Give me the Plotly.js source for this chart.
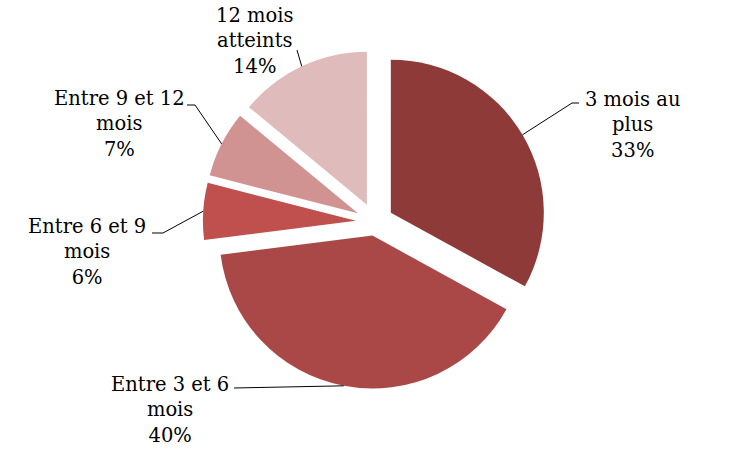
<!DOCTYPE html>
<html>
<head>
<meta charset="utf-8">
<script src="https://cdn.plot.ly/plotly-3.0.1.min.js"></script>
<style>html,body{margin:0;padding:0;background:#fff;}#chart{width:750px;height:450px;}</style>
</head>
<body>
<div id="chart"></div>
<script>
// ---- data ----
const categories = ['3 mois au plus', 'Entre 3 et 6 mois', 'Entre 6 et 9 mois', 'Entre 9 et 12 mois', '12 mois atteints'];
const labelText = ['3 mois au<br>plus', 'Entre 3 et 6<br>mois', 'Entre 6 et 9<br>mois', 'Entre 9 et 12<br>mois', '12 mois<br>atteints'];
const values = [33, 40, 6, 7, 14];

// ---- style ----
const colors = ['#8E3A38', '#A94846', '#C0504D', '#D09391', '#E0BBBB'];
const pulls = [0.12, 0.09, 0.125, 0.125, 0.125];
const W = 750, H = 450;
const CX = 375, CY = 222, R = 153;
// label text centers (px) and leader line waypoints (px)
const labelPos = [[632, 125], [170, 410], [87, 252], [119, 124], [255, 41]];
const leaderWay = [
  [[572, 103], [579, 103]],
  [[234, 388]],
  [[163, 233], [152, 233]],
  [[195, 105], [187, 105]],
  [[297, 50]]
];

const maxPull = Math.max.apply(null, pulls);
const side = R * (2 + 2 * maxPull);
const domain = {
  x: [(CX - side / 2) / W, (CX + side / 2) / W],
  y: [1 - (CY + side / 2) / H, 1 - (CY - side / 2) / H]
};

const total = values.reduce((a, b) => a + b, 0);
const annotations = [];
const shapes = [];
let cum = 0;
values.forEach((v, i) => {
  const mid = (cum + v / 2) / total * 2 * Math.PI;
  cum += v;
  const dist = R * (1 + pulls[i]);
  const tx = CX + dist * Math.sin(mid);
  const ty = CY - dist * Math.cos(mid);
  let d = 'M' + (tx / W) + ',' + (1 - ty / H);
  leaderWay[i].forEach(p => { d += ' L' + (p[0] / W) + ',' + (1 - p[1] / H); });
  shapes.push({type: 'path', xref: 'paper', yref: 'paper', path: d, line: {color: '#000000', width: 1}});
  annotations.push({
    xref: 'paper', yref: 'paper',
    x: labelPos[i][0] / W, y: 1 - labelPos[i][1] / H,
    xanchor: 'center', yanchor: 'middle', align: 'center',
    showarrow: false,
    text: labelText[i] + '<br>' + Math.round(v / total * 100) + '%',
    font: {family: 'DejaVu Serif, serif', size: 19.5, color: '#000000'}
  });
});

const trace = {
  type: 'pie',
  labels: categories,
  values: values,
  sort: false,
  direction: 'clockwise',
  rotation: 0,
  pull: pulls,
  textinfo: 'none',
  hoverinfo: 'none',
  domain: domain,
  marker: {colors: colors, line: {width: 0}}
};

const layout = {
  width: W, height: H,
  margin: {l: 0, r: 0, t: 0, b: 0},
  showlegend: false,
  paper_bgcolor: '#ffffff',
  annotations: annotations,
  shapes: shapes
};

Plotly.newPlot('chart', [trace], layout, {displayModeBar: false, staticPlot: true});
</script>
</body>
</html>
